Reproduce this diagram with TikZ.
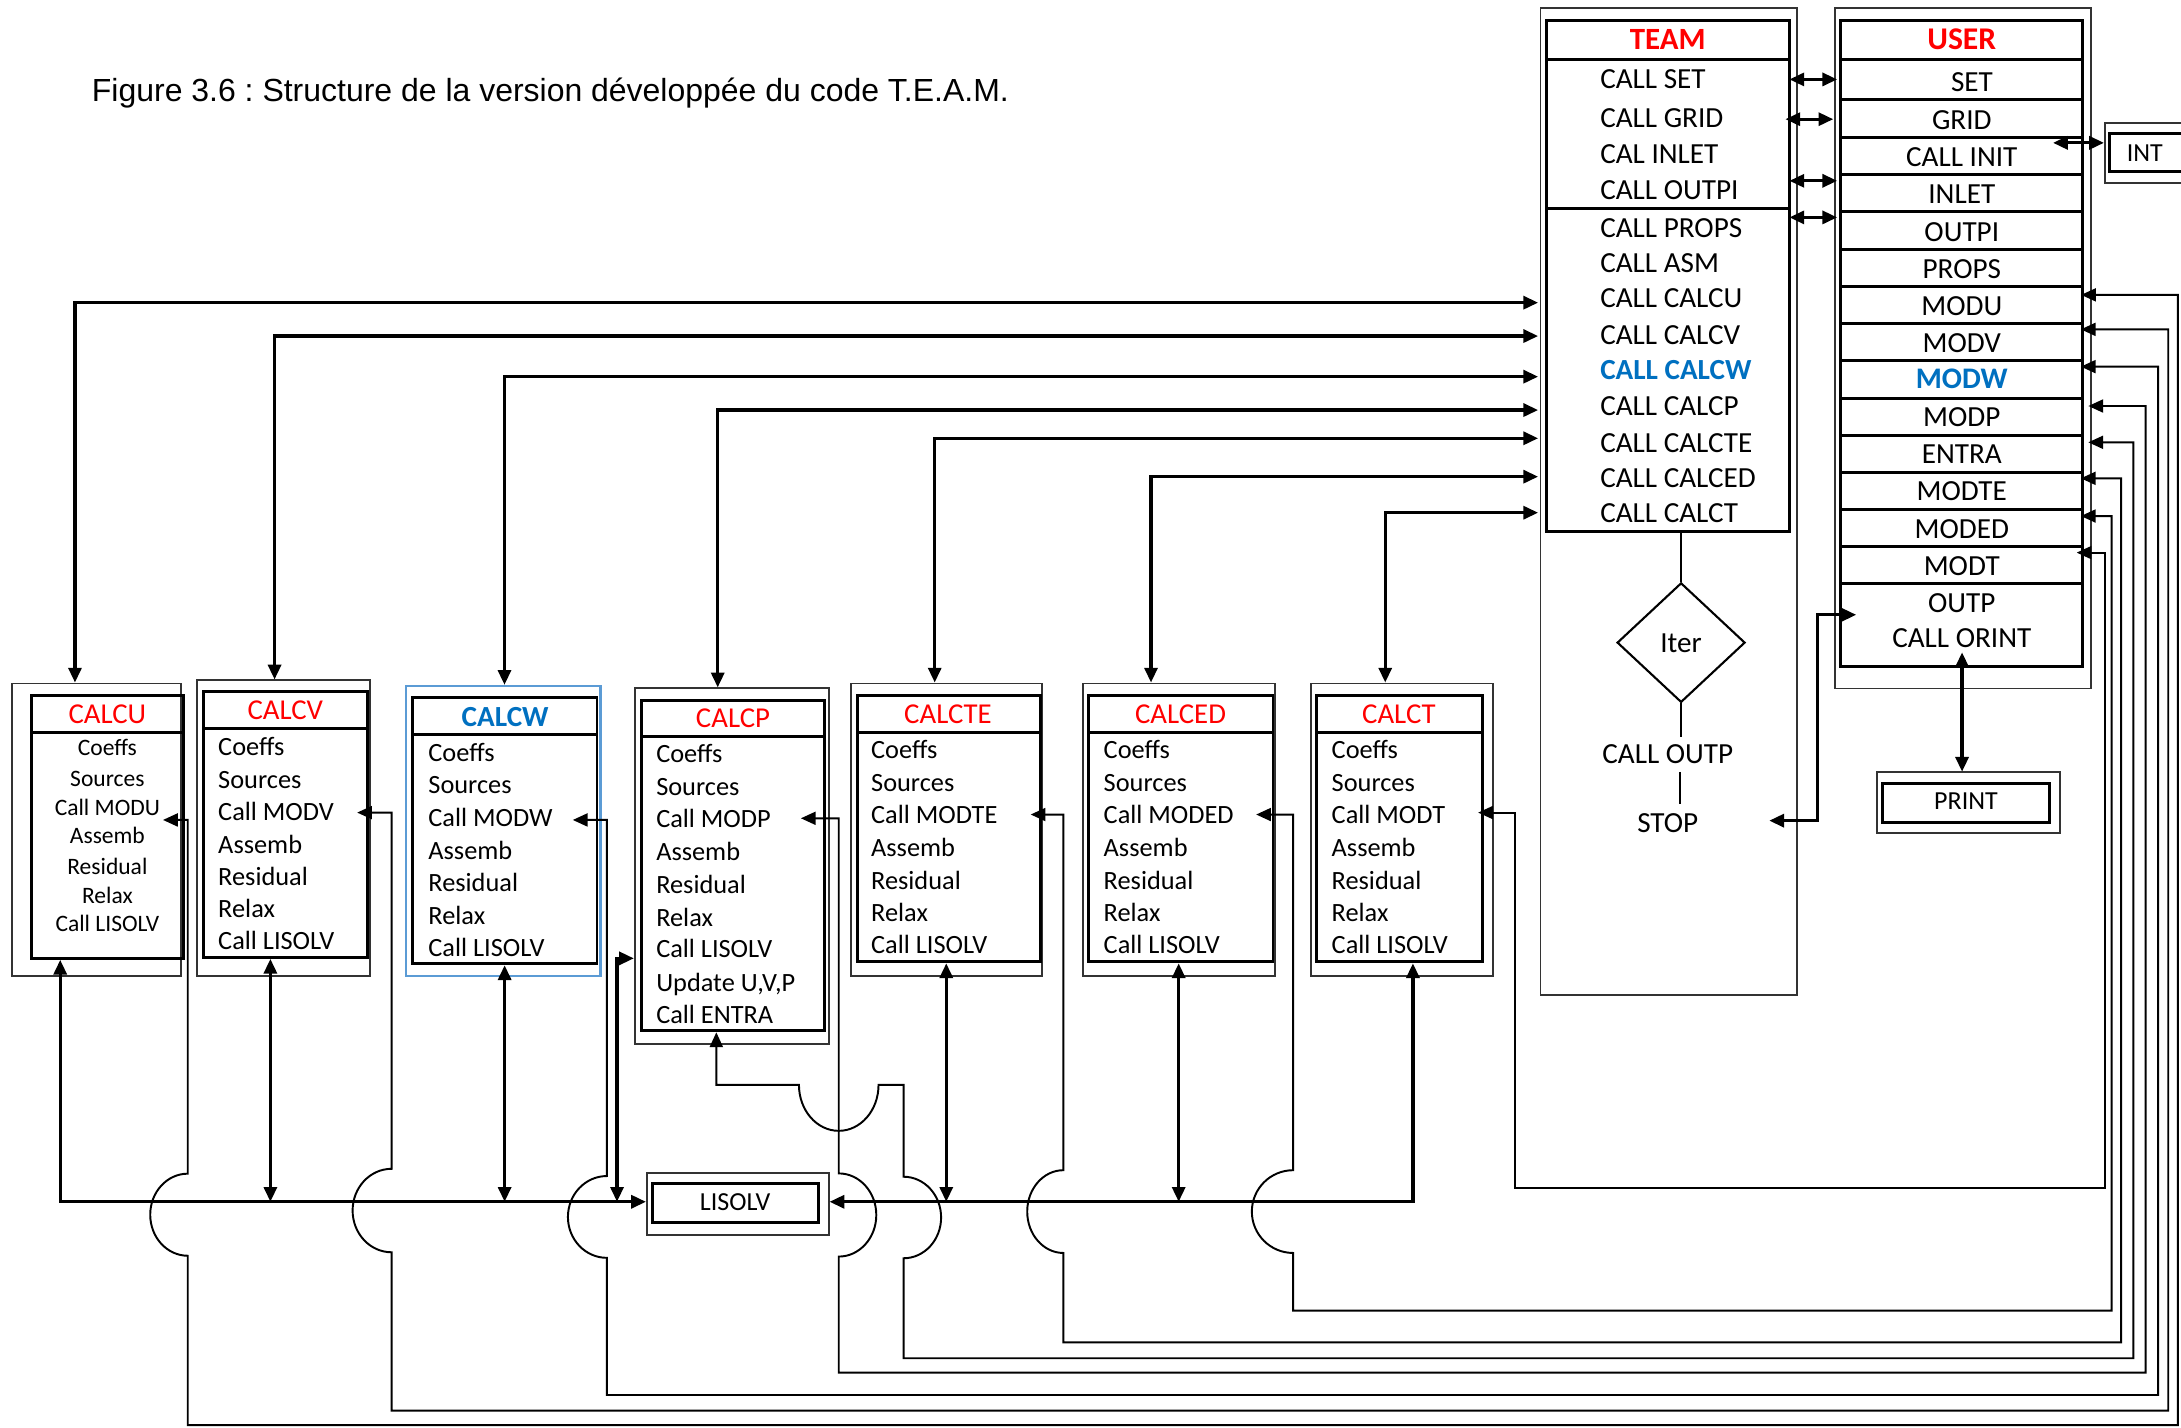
\documentclass[tikz,border=0pt]{standalone}
\usepackage{fontspec}
\setmainfont{Carlito}
\newfontfamily\arialf{Liberation Sans}
\usetikzlibrary{arrows.meta,fit,shapes.geometric}
\definecolor{tred}{RGB}{255,0,0}
\definecolor{tblue}{RGB}{0,112,192}
\definecolor{lblue}{RGB}{91,155,213}
\begin{document}
\frenchspacing
\begin{tikzpicture}[x=0.013909cm,y=-0.013909cm,
  >={Triangle[length=4.2pt,width=3.7pt]},
  box/.style={draw, line width=0.85pt, inner sep=0pt},
  obox/.style={draw=black!80, line width=0.55pt, inner sep=0pt},
  row/.style={font=\fontsize{8.3}{10}\selectfont, inner sep=0pt, text height=5.35pt, text depth=0pt},
  body/.style={font=\fontsize{7.5}{9}\selectfont, inner sep=0pt, text height=4.83pt, text depth=0pt, anchor=west},
  sbody/.style={font=\fontsize{6.7}{8}\selectfont, inner sep=0pt, text height=4.31pt, text depth=0pt},
  ttl/.style={font=\fontsize{8.2}{10}\selectfont, text=tred, inner sep=0pt, text height=5.28pt, text depth=0pt},
  lbl/.style={font=\fontsize{7.4}{9}\selectfont, inner sep=0pt, text height=4.77pt, text depth=0pt},
  thk/.style={line width=0.9pt},
  thn/.style={line width=0.55pt}]
\useasboundingbox (0,0) rectangle (1568,1026);
\clip (0,0) rectangle (1568,1026);
\fill[white] (0,0) rectangle (1568,1026);

% title
\node[font=\arialf\fontsize{9.1}{11}\selectfont, anchor=west, inner sep=0pt, text height=6.5pt, text depth=0pt] (title) at (65.6,64.7) {Figure 3.6 : Structure de la version développée du code T.E.A.M.};

% ---------------- TEAM
\node[obox, fit={(1107.5,6) (1292,715.4)}] (teamO) {};
\node[box, fit={(1112,14.4) (1286.5,382)}] (team) {};
\draw[box] (1112,42.7) -- (1286.5,42.7);
\draw[box] (1112,149.6) -- (1286.5,149.6);
\node[ttl, font=\fontsize{8.8}{10}\selectfont\bfseries] (teamT) at (1199,29) {TEAM};
\foreach \t/\y [count=\i] in {CALL SET/57, CALL GRID/85, CAL INLET/110.7, CALL OUTPI/136.4, CALL PROPS/163.7, CALL ASM/189.4, CALL CALCU/214.4, CALL CALCV/240.7, CALL CALCP/292, CALL CALCTE/318.4, CALL CALCED/344, CALL CALCT/369}
  \node[row, anchor=west] (t\i) at (1150,\y) {\t};
\node[row, anchor=west, font=\fontsize{8.3}{10}\selectfont\bfseries, text=tblue] (tw) at (1150,266.4) {CALL CALCW};

\node[draw, diamond, line width=0.6pt, inner sep=0pt, aspect=1.07, minimum width=1.28cm, minimum height=1.196cm, row] (iter) at (1208.6,462) {Iter};
\draw[thn] (iter.north |- team.south) -- (iter.north);
\draw[thn] (iter.south) -- (1208.6,530);
\node[row] (outp) at (1199,542.4) {CALL OUTP};
\draw[thn] (1207.5,555) -- (1207.5,578);
\node[row] (stop) at (1199,591.6) {STOP};

% ---------------- USER
\node[obox, fit={(1319.3,5.8) (1503.5,495)}] (userO) {};
\node[box, fit={(1323.2,14.4) (1497,479)}] (user) {};
\foreach \y in {42.7,71.6,98.9,125.8,152.4,179.1,206,232.7,259.3,286.3,312.9,339.6,366.5,393.2,419.5}
  \draw[box] (1323.2,\y) -- (1497,\y);
\node[ttl, font=\fontsize{9}{10}\selectfont\bfseries] (userT) at (1410.4,29) {USER};
\node[row] (uset) at (1417.7,58.7) {SET};
\foreach \t/\y [count=\i] in {GRID/86, CALL INIT/113, INLET/139.6, OUTPI/166.9, PROPS/193.5, MODU/219.8, MODV/246.5, MODP/300, ENTRA/326.7, MODTE/353, MODED/380.3, MODT/407, OUTP/433.3, CALL ORINT/459}
  \node[row] (u\i) at (1410.4,\y) {\t};
\node[row, font=\fontsize{8.5}{10}\selectfont\bfseries, text=tblue] (umodw) at (1410.4,272.8) {MODW};

% INT and PRINT
\node[obox, fit={(1513.3,88.3) (1600,131.6)}] (intO) {};
\node[box, fit={(1516.5,96.3) (1600,123.6)}] (int) {};
\node[lbl] (intT) at (1542,110) {INT};
\node[obox, fit={(1349.2,554.8) (1481,599)}] (printO) {};
\node[box, fit={(1353.2,563.1) (1473.2,591.2)}] (print) {};
\node[lbl] (printT) at (1413.4,576.3) {PRINT};

% TEAM <-> USER
\draw[thk,<->] (1286.5,57.1) -- (1320.8,57.1);
\draw[thk,<->] (1283.6,85.7) -- (1318,85.7);
\draw[thk,<->] (1286.5,130) -- (1320.8,130);
\draw[thk,<->] (1286.5,156.3) -- (1320.8,156.3);
\draw[thk,<->] (1476,102.7) -- (intO.west |- 0,102.7);
\draw[thk,<->] (1410.6,469) -- (1410.6,554.8);
\coordinate (stopA) at (1272,590);
\coordinate (outpA) at (1334.5,442);
\draw[thk,<->] (stopA) -- (1306.5,590) -- (1306.5,442) -- (outpA);

% ---------------- CALC boxes
% CALCU
\node[obox, fit={(8.3,491.4) (130.4,702)}] (calcuO) {};
\node[box, fit={(22.7,500.1) (132,689)}] (calcu) {};
\draw[box] (22.7,526.5) -- (132,526.5);
\node[ttl] (calcuT) at (77.2,513.2) {CALCU};
\foreach \t/\y [count=\i] in {Coeffs/537.8, Sources/560, Call MODU/580.7, Assemb/601, Residual/623, Relax/644, Call LISOLV/664.4}
  \node[sbody] (cu\i) at (77.2,\y) {\t};
% CALCV
\node[obox, fit={(141.6,489.2) (266.2,702)}] (calcvO) {};
\node[box, fit={(146.1,497.3) (264.1,688.3)}] (calcv) {};
\draw[box] (146.1,523.7) -- (264.1,523.7);
\node[ttl] (calcvT) at (205.1,510.7) {CALCV};
\foreach \t/\y [count=\i] in {Coeffs/537.1, Sources/560.6, Call MODV/583.5, Assemb/607.4, Residual/630.2, Relax/653.8, Call LISOLV/676.7}
  \node[body] (cv\i) at (156.4,\y) {\t};
% CALCW
\node[draw=lblue, line width=0.6pt, inner sep=0pt, fit={(292.2,493.1) (431.7,702)}] (calcwO) {};
\node[box, fit={(296.7,501.6) (429.2,692.9)}] (calcw) {};
\draw[box] (296.7,528.3) -- (429.2,528.3);
\node[ttl, font=\fontsize{8.3}{10}\selectfont\bfseries, text=tblue] (calcwT) at (363.2,515.6) {CALCW};
\foreach \t/\y [count=\i] in {Coeffs/541.3, Sources/564.5, Call MODW/588, Assemb/611.6, Residual/634.9, Relax/658.4, Call LISOLV/681.3}
  \node[body] (cw\i) at (307.5,\y) {\t};
% CALCP
\node[obox, fit={(456.4,494.9) (595.9,750.9)}] (calcpO) {};
\node[box, fit={(461,503.3) (593,741.1)}] (calcp) {};
\draw[box] (461,529.7) -- (593,529.7);
\node[ttl] (calcpT) at (527,516.7) {CALCP};
\foreach \t/\y [count=\i] in {Coeffs/542.4, Sources/565.9, Call MODP/589.1, Assemb/612.7, Residual/636.2, Relax/659.8, Call LISOLV/682.6, {Update U,V,P}/706.5, Call ENTRA/729.4}
  \node[body] (cp\i) at (471.3,\y) {\t};
% CALCTE
\node[obox, fit={(611.9,491.4) (749.2,702)}] (calcteO) {};
\node[box, fit={(616.3,500.1) (748,691.5)}] (calcte) {};
\draw[box] (616.3,526.5) -- (748,526.5);
\node[ttl] (calcteT) at (681.5,513.5) {CALCTE};
\foreach \t/\y [count=\i] in {Coeffs/539.5, Sources/562.8, Call MODTE/586.3, Assemb/609.6, Residual/633.2, Relax/656.7, Call LISOLV/679.6}
  \node[body] (cte\i) at (625.8,\y) {\t};
% CALCED
\node[obox, fit={(778.4,491.4) (916.4,702)}] (calcedO) {};
\node[box, fit={(782.8,500.1) (915.2,691.5)}] (calced) {};
\draw[box] (782.8,526.5) -- (915.2,526.5);
\node[ttl] (calcedT) at (848.7,513.5) {CALCED};
\foreach \t/\y [count=\i] in {Coeffs/539.5, Sources/562.8, Call MODED/586.3, Assemb/609.6, Residual/633.2, Relax/656.7, Call LISOLV/679.6}
  \node[body] (ced\i) at (793,\y) {\t};
% CALCT
\node[obox, fit={(942.4,491.4) (1073.4,702)}] (calctO) {};
\node[box, fit={(946.8,500.1) (1065.9,691.5)}] (calct) {};
\draw[box] (946.8,526.5) -- (1065.9,526.5);
\node[ttl] (calctT) at (1005.7,513.5) {CALCT};
\foreach \t/\y [count=\i] in {Coeffs/539.5, Sources/562.8, Call MODT/586.3, Assemb/609.6, Residual/633.2, Relax/656.7, Call LISOLV/679.6}
  \node[body] (ct\i) at (956.9,\y) {\t};

% LISOLV
\node[obox, fit={(465.1,843.1) (595.7,887.8)}] (lisolvO) {};
\node[box, fit={(469.2,850.8) (588.4,879)}] (lisolv) {};
\node[lbl] (lisolvT) at (528.5,864) {LISOLV};

% TEAM -> CALC boxes
\foreach \n/\x/\y in {calcuO/53.9/217.6, calcvO/197.4/241.6, calcwO/362.7/270.8, calcpO/516/294.8, calcteO/672/315.1, calcedO/827.5/342.7, calctO/995.9/368.6}
  \draw[thk,<->] (\n.north -| \x,0) |- (1105.8,\y);

% CALC boxes <-> LISOLV
\draw[thk,<->] (calcu.south -| 43.3,0) |- (lisolvO.west |- 0,864);
\draw[thk,<->] (calcv.south -| 194.4,0) -- (194.4,864);
\draw[thk,<->] (calcw.south -| 362.8,0) -- (362.8,864);
\draw[thk,<->] (calcpO.west |- 0,689) -| (443.6,864);
\draw[thk,<->] (calct.south -| 1015.8,0) |- (lisolvO.east |- 0,864);
\draw[thk,<->] (calcte.south -| 680.3,0) -- (680.3,864);
\draw[thk,<->] (calced.south -| 847.4,0) -- (847.4,864);

% MOD feedback lines
\draw[thn,<->] (117.2,589.5) -- (135,589.5) -- (135,843.8) arc[start angle=270,end angle=90,x radius=27,y radius=29.5] -- (135,1024.6) -- (1565.8,1024.6) -- (1565.8,212) -- (1496.2,212);
\draw[thn,<->] (256.8,584.2) -- (281.5,584.2) -- (281.5,840.3) arc[start angle=270,end angle=90,x radius=28,y radius=30] -- (281.5,1014.2) -- (1558.8,1014.2) -- (1558.8,236.8) -- (1496,236.8);
\draw[thn,<->] (411.8,589.5) -- (436.3,589.5) -- (436.3,845.5) arc[start angle=270,end angle=90,x radius=28,y radius=29.4] -- (436.3,1002.9) -- (1551.6,1002.9) -- (1551.6,263.6) -- (1496,263.6);
\draw[thn,<->] (575.8,588.3) -- (603,588.3) -- (603,843.6) arc[start angle=270,end angle=450,x radius=27,y radius=29.9] -- (603,986.8) -- (1542.6,986.8) -- (1542.6,291.9) -- (1501.4,291.9);
\draw[thn,<->] (calcp.south -| 515,0) -- (515,780) -- (574.4,780) arc[start angle=180,end angle=0,x radius=28.6,y radius=33] -- (649.6,780) -- (649.6,846) arc[start angle=270,end angle=450,x radius=27,y radius=29.3] -- (649.6,976.5) -- (1533.7,976.5) -- (1533.7,318) -- (1501.4,318);
\draw[thn,<->] (741,585.6) -- (764.5,585.6) -- (764.5,841.3) arc[start angle=270,end angle=90,x radius=26,y radius=29.75] -- (764.5,965.1) -- (1524.9,965.1) -- (1524.9,343.9) -- (1496,343.9);
\draw[thn,<->] (903.1,585.6) -- (929.7,585.6) -- (929.7,841.3) arc[start angle=270,end angle=90,x radius=29.7,y radius=29.75] -- (929.7,942.3) -- (1518.1,942.3) -- (1518.1,371) -- (1496,371);
\draw[thn,<->] (1062.7,584.2) -- (1089.3,584.2) -- (1089.3,854.3) -- (1513.3,854.3) -- (1513.3,397.3) -- (1493,397.3);
\end{tikzpicture}
\end{document}
